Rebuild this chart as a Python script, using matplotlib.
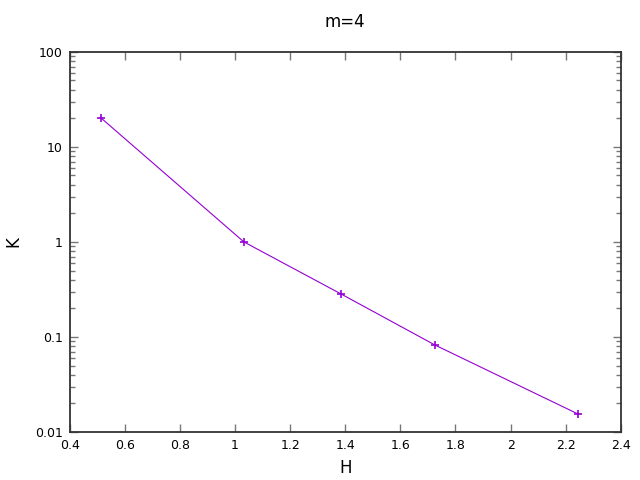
import numpy as np
import matplotlib.pyplot as plt
from matplotlib.ticker import LogLocator, FixedLocator, FuncFormatter

# data
H = [0.513, 1.032, 1.384, 1.725, 2.244]
K = [20.2, 1.0, 0.284, 0.0824, 0.0155]

x_ticks = [0.4, 0.6, 0.8, 1.0, 1.2, 1.4, 1.6, 1.8, 2.0, 2.2, 2.4]
x_labels = ["0.4", "0.6", "0.8", "1", "1.2", "1.4", "1.6", "1.8", "2", "2.2", "2.4"]
y_ticks = [0.01, 0.1, 1, 10, 100]
y_labels = ["0.01", "0.1", "1", "10", "100"]

fig = plt.figure(figsize=(6.4, 4.8), dpi=100)
ax = fig.add_axes([0.109, 0.1, 0.861, 0.792])

ax.plot(H, K, color="#9400d3", linewidth=0.8, marker="+", markersize=6,
        markeredgewidth=1.2)

ax.set_yscale("log")
ax.set_xlim(0.4, 2.4)
ax.set_ylim(0.01, 100)

ax.xaxis.set_major_locator(FixedLocator(x_ticks))
ax.set_xticklabels(x_labels)
ax.yaxis.set_major_locator(FixedLocator(y_ticks))
ax.set_yticklabels(y_labels)
ax.yaxis.set_minor_locator(LogLocator(base=10, subs=np.arange(2, 10)))
ax.yaxis.set_minor_formatter(FuncFormatter(lambda v, p: ""))

ax.tick_params(which="both", direction="in", top=True, right=True,
               labelsize=9, width=1, color="#777777", labelcolor="black")
ax.tick_params(which="major", length=6, pad=5)
ax.tick_params(which="minor", length=3.5)
for s in ax.spines.values():
    s.set_linewidth(1.3)
    s.set_color("#333333")

ax.set_xlabel("H", fontsize=12, labelpad=5)
ax.set_ylabel("K", fontsize=12, labelpad=9)
ax.set_title("m=4", fontsize=12, pad=18)

fig.savefig("out.png", dpi=100)
